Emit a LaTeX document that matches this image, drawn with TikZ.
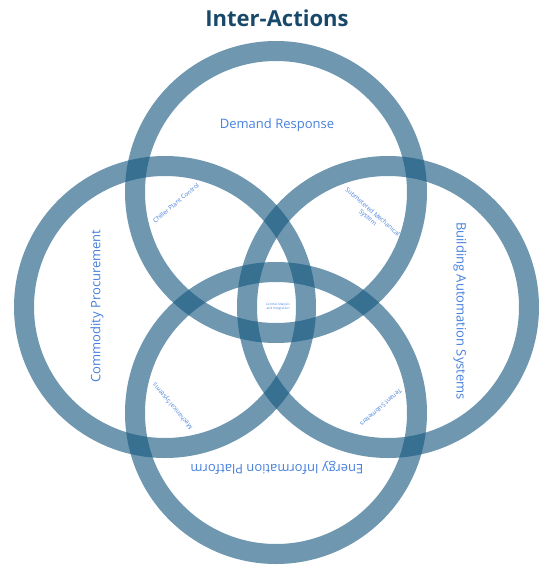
\documentclass[tikz,border=0pt]{standalone}
\usepackage{fontspec}
\setmainfont{Open Sans}
\usepackage{tikz}
\definecolor{ringblue}{RGB}{22,88,128}
\definecolor{labelblue}{RGB}{70,128,222}
\definecolor{titleblue}{RGB}{24,72,106}
\tikzset{
  ring/.style={
    draw=ringblue,
    circle,
    line width=20pt,
    draw opacity=0.62,
    minimum size=282pt,
    inner sep=0pt
  },
  biglabel/.style={
    text=labelblue,
    font=\fontsize{13}{15}\selectfont,
    inner sep=0pt
  },
  smalllabel/.style={
    text=labelblue,
    font=\fontsize{6.2}{7.2}\selectfont,
    align=center,
    inner sep=0pt
  }
}

\begin{document}
\begin{tikzpicture}[x=1pt, y=-1pt]
  \useasboundingbox (0,0) rectangle (550,571);

  % Titre
  \node[text=titleblue, font=\fontsize{22}{26}\selectfont\bfseries] (title) at (277,18) {Inter-Actions};

  % Anneaux
  \node[ring] (demand) at (276,192) {};
  \node[ring] (commodity) at (165,307) {};
  \node[ring] (building) at (388,307) {};
  \node[ring] (energy) at (276,413) {};

  % Noms des anneaux
  \node[biglabel] (demandlbl) at (277,125) {Demand Response};
  \node[biglabel, rotate=90] (commoditylbl) at (97,306) {Commodity Procurement};
  \node[biglabel, rotate=-90] (buildinglbl) at (460,311) {Building Automation Systems};
  \node[biglabel, rotate=180] (energylbl) at (277,468) {Energy Information Platform};

  % Intersections
  \node[smalllabel, rotate=40] (chiller) at (176,203) {Chiller Plant Control};
  \node[smalllabel, rotate=-41] (submetered) at (370,215) {Submetered Mechanical\\System};
  \node[smalllabel, font=\fontsize{3.2}{4.2}\selectfont] (central) at (278,307) {Central Analysis\\and Integration};
  \node[smalllabel, rotate=130] (mechanical) at (173,406) {Mechanical Systems};
  \node[smalllabel, rotate=-139] (tenant) at (381,408) {Tenant Submeters};
\end{tikzpicture}
\end{document}
